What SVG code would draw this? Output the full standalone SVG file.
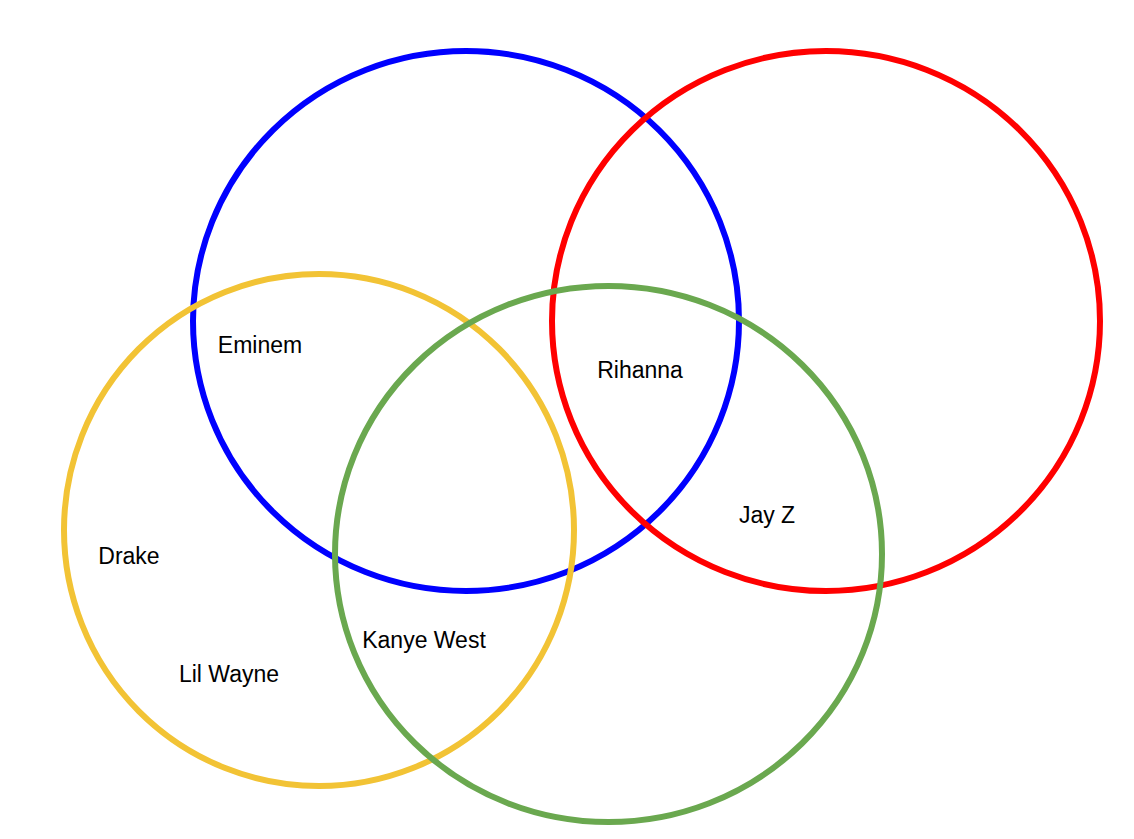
<svg xmlns="http://www.w3.org/2000/svg" width="1134" height="839" viewBox="0 0 1134 839">
<style>
.c{fill:none;stroke-width:6}
.t{font-family:"Liberation Sans",Arial,sans-serif;font-size:23px;fill:#000;text-anchor:middle}
</style>
<rect width="1134" height="839" fill="#fff"/>
<g id="blue"><ellipse class="c" cx="466" cy="321" rx="273" ry="270" stroke="#0000FF"/></g>
<g id="red"><ellipse class="c" cx="826" cy="321" rx="274" ry="270" stroke="#FF0000"/></g>
<g id="yellow"><ellipse class="c" cx="319" cy="530" rx="255" ry="256" stroke="#F2C335"/></g>
<g id="green"><ellipse class="c" cx="608.5" cy="554" rx="273.5" ry="268" stroke="#6AA84F"/></g>
<g id="labels">
<text class="t" x="260" y="353">Eminem</text>
<text class="t" x="640" y="378">Rihanna</text>
<text class="t" x="767" y="523">Jay Z</text>
<text class="t" x="129" y="564">Drake</text>
<text class="t" x="229" y="682">Lil Wayne</text>
<text class="t" x="424" y="648">Kanye West</text>
</g>
</svg>
